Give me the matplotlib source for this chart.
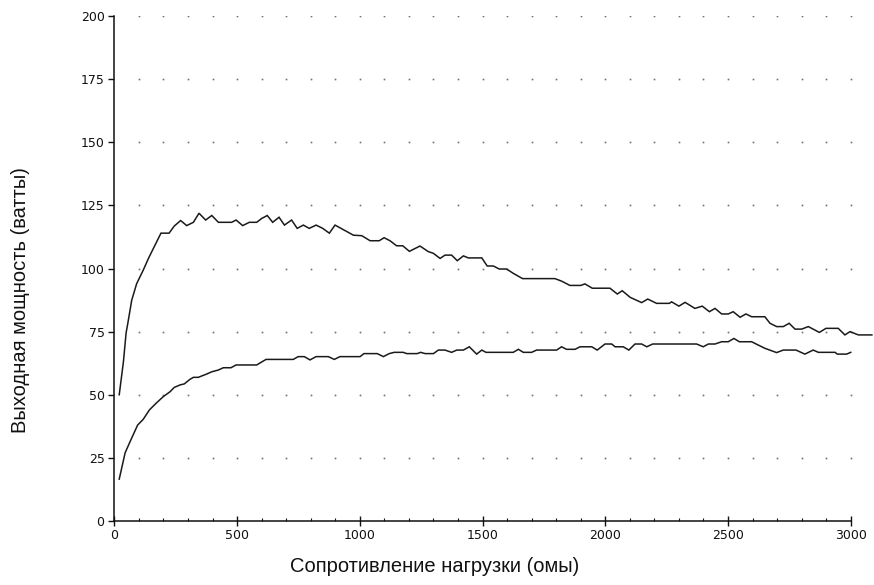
import numpy as np
import matplotlib
matplotlib.use("Agg")
import matplotlib.pyplot as plt
from matplotlib import font_manager
from matplotlib.ticker import MultipleLocator

# Output power vs. load resistance, two measured curves
upper_ohms = [20, 37, 48, 55, 71, 91, 118, 139, 166, 190, 223, 244, 270, 295, 322,
              345, 372, 397, 424, 478, 496, 523, 550, 580, 600, 623, 645, 671, 693,
              722, 745, 770, 794, 822, 849, 876, 899, 974, 1008, 1042, 1079, 1099,
              1123, 1150, 1175, 1202, 1245, 1279, 1300, 1327, 1347, 1374, 1397, 1422,
              1442, 1497, 1519, 1544, 1568, 1598, 1625, 1663, 1795, 1822, 1856, 1900,
              1917, 1947, 2019, 2049, 2069, 2101, 2148, 2173, 2209, 2261, 2270, 2300,
              2325, 2365, 2395, 2424, 2447, 2474, 2501, 2521, 2549, 2573, 2596, 2650,
              2671, 2698, 2725, 2749, 2773, 2800, 2827, 2872, 2899, 2949, 2976, 2997,
              3031, 3086]
upper_watts = [50, 63, 74.5, 78.3, 87.5, 94, 99.4, 104, 109.3, 114, 114, 116.8, 119,
               117, 118.3, 121.9, 119.2, 121, 118.3, 118.3, 119.2, 117, 118.3, 118.3,
               119.8, 121, 118.3, 120.3, 117.2, 119.2, 115.9, 117.2, 115.9, 117.2,
               115.9, 114, 117.2, 113.2, 113, 111, 111, 112.2, 111, 109, 109, 106.8,
               108.9, 106.7, 106, 104, 105.3, 105.3, 103.1, 105, 104.2, 104.2, 101,
               101, 99.8, 99.8, 98.1, 96, 96, 95, 93.3, 93.3, 93.9, 92.2, 92.2, 89.9,
               91.2, 88.6, 86.5, 87.9, 86.2, 86.2, 86.8, 85.1, 86.6, 84.2, 85.1, 82.9,
               84.2, 82, 82, 82.9, 80.7, 82, 80.9, 80.9, 78.3, 77, 77, 78.3, 76, 76,
               77, 74.7, 76.3, 76.3, 73.7, 75, 73.7, 73.7]

lower_ohms = [20, 44, 64, 95, 118, 143, 173, 200, 227, 244, 268, 285, 308, 322, 342,
              376, 397, 424, 444, 475, 496, 580, 618, 729, 749, 774, 797, 822, 872,
              896, 919, 1001, 1017, 1071, 1096, 1120, 1140, 1177, 1191, 1234, 1248,
              1266, 1300, 1320, 1347, 1374, 1395, 1422, 1446, 1476, 1497, 1514, 1625,
              1646, 1666, 1700, 1720, 1802, 1822, 1842, 1877, 1897, 1945, 1967, 1999,
              2026, 2040, 2073, 2096, 2121, 2148, 2169, 2193, 2372, 2399, 2420, 2447,
              2474, 2501, 2524, 2546, 2596, 2623, 2650, 2698, 2725, 2777, 2813, 2847,
              2868, 2936, 2945, 2983, 3000]
lower_watts = [16.6, 27, 31.4, 38, 40.3, 44, 46.9, 49.3, 51.2, 52.9, 53.9, 54.3, 56.1,
               56.9, 56.9, 58.2, 59.1, 59.8, 60.7, 60.7, 61.8, 61.8, 64, 64, 65.1,
               65.1, 63.8, 65.1, 65.1, 64, 65.1, 65.1, 66.3, 66.3, 65.1, 66.3, 66.8,
               66.8, 66.3, 66.3, 66.8, 66.3, 66.3, 67.7, 67.7, 66.8, 67.7, 67.7, 69,
               66.1, 67.7, 66.8, 66.8, 68, 66.8, 66.8, 67.7, 67.7, 69, 68, 68, 69, 69,
               67.7, 70.1, 70.1, 69, 69, 67.7, 70.1, 70.1, 69, 70.1, 70.1, 69, 70.1,
               70.1, 71, 71, 72.3, 71, 71, 69.7, 68.4, 66.7, 67.7, 67.7, 66.1, 67.7,
               66.8, 66.8, 66.1, 66.1, 66.8]

x_label = "Сопротивление нагрузки (омы)"
y_label = "Выходная мощность (ватты)"

# prefer a condensed sans for the axis titles when one is available
installed = {f.name for f in font_manager.fontManager.ttflist}
if "Liberation Sans Narrow" in installed:
    label_font, label_size = ["Liberation Sans Narrow", "DejaVu Sans"], 16
else:
    label_font, label_size = ["Liberation Sans", "DejaVu Sans"], 14.5

fig = plt.figure(figsize=(8.74, 5.85), dpi=100)
ax = fig.add_axes([0.1308, 0.1094, 0.8679, 0.8632])

x_max_axis = 3000
y_max_axis = 200
ax.set_xlim(0, 3090)
ax.set_ylim(0, y_max_axis)

# dotted grid: one dot at every minor x step on each major y level
gx = np.arange(100, x_max_axis + 1, 100)
gy = np.arange(25, y_max_axis + 1, 25)
GX, GY = np.meshgrid(gx, gy)
ax.plot(GX.ravel(), GY.ravel(), ls="none", marker="s", ms=1.2,
        mec="none", mfc="#707070", zorder=1)

line_kw = dict(color="#1a1a1a", lw=1.1, solid_joinstyle="miter", zorder=3)
ax.plot(upper_ohms, upper_watts, **line_kw)
ax.plot(lower_ohms, lower_watts, **line_kw)

for side in ("top", "right"):
    ax.spines[side].set_visible(False)
ax.spines["left"].set_bounds(0, y_max_axis)
ax.spines["bottom"].set_bounds(0, x_max_axis)
for side in ("left", "bottom"):
    ax.spines[side].set_linewidth(1.1)
    ax.spines[side].set_color("#111111")

ax.set_xticks(np.arange(0, x_max_axis + 1, 500))
ax.xaxis.set_minor_locator(MultipleLocator(100))
ax.set_yticks(np.arange(0, y_max_axis + 1, 25))

ax.tick_params(axis="x", which="major", direction="inout", length=7, width=1.0,
               pad=2, labelsize=9, colors="#111111")
ax.tick_params(axis="x", which="minor", direction="in", length=2.5, width=0.8,
               colors="#111111")
ax.tick_params(axis="y", which="major", direction="out", length=4, width=1.0,
               pad=3, labelsize=9, colors="#111111")

fig.text(0.4977, 0.0308, x_label, ha="center", va="center",
         fontsize=label_size, family=label_font, color="#111111")
fig.text(0.0229, 0.487, y_label, ha="center", va="center", rotation=90,
         fontsize=label_size, family=label_font, color="#111111")

fig.savefig("out.png", dpi=100)
